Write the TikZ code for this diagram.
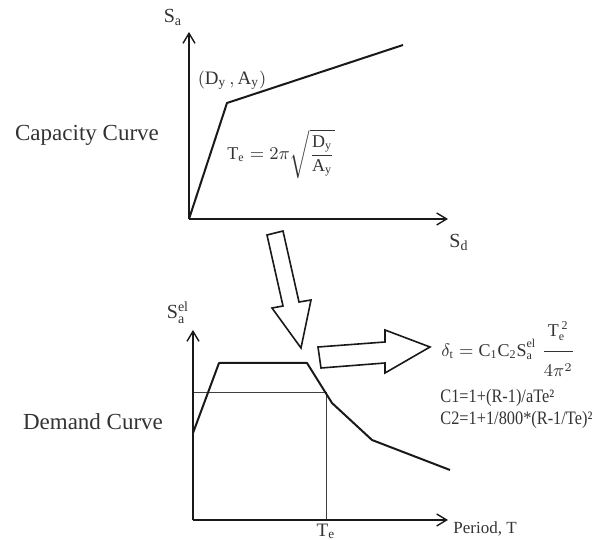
\documentclass[tikz,border=0pt]{standalone}
\usepackage{fontspec}
\setmainfont{Liberation Serif}
\usetikzlibrary{arrows.meta,calc}
\definecolor{TextClr}{rgb}{0.2,0.2,0.2}
\definecolor{LineClr}{rgb}{0.1,0.1,0.1}

\begin{document}
\begin{tikzpicture}[x=0.5pt,y=-0.5pt,
  axis/.style={line width=0.7pt,draw=LineClr,-{Straight Barb[length=5pt,width=6pt]}},
  curve/.style={line width=1pt,draw=LineClr,line join=round},
  guide/.style={line width=0.4pt,draw=black!75},
  fatarrow/.style={line width=0.8pt,draw=LineClr,line join=miter},
  lbl/.style={inner sep=0pt,text=TextClr},
  title/.style={lbl,font=\fontsize{11.5}{14}\selectfont},
  small/.style={lbl,font=\fontsize{9.5}{11}\selectfont},
  tiny/.style={lbl,font=\fontsize{8.5}{10}\selectfont}]
\useasboundingbox (0,0) rectangle (596,540);

% capacity curve
\coordinate (O1) at (189,219);
\coordinate (Y1) at (189,32);
\coordinate (X1) at (448,219);
\coordinate (Yld) at (227,103);
\coordinate (E1) at (403,45);
\draw[axis] (O1) -- (Y1);
\draw[axis] (O1) -- (X1);
\draw[curve] (O1) -- (Yld) -- (E1);

\node[title] (cap) at (87,135) {Capacity Curve};
\node[small,font=\fontsize{10}{12}\selectfont] (sa) at (173,17) {$\mathrm{S_a}$};
\node[small,font=\fontsize{10}{12}\selectfont] (sd) at (459,242) {$\mathrm{S_d}$};
\node[small] (dy) at (232,80) {$\mathrm{(D_y\,, A_y)}$};
\node[small,font=\fontsize{9}{11}\selectfont] (te) at (281,154)
  {$\displaystyle\mathrm{T_e}=2\pi\sqrt{\frac{\mathrm{D_y}}{\mathrm{A_y}}}$};

% hollow arrows
\draw[fatarrow] (267,235) -- (283,306) -- (272,308) -- (301,348) -- (311,300)
  -- (299,302) -- (283,231) -- cycle;
\draw[fatarrow] (318,347) -- (385,342) -- (385,330) -- (430,347) -- (385,373)
  -- (385,363) -- (321,368) -- cycle;

% demand curve
\coordinate (O2) at (193,520);
\coordinate (Y2) at (193,330);
\coordinate (X2) at (448,520);
\coordinate (Te) at (326,520);
\coordinate (Se) at (193,392);
\coordinate (P) at (326,392);
\draw[guide] (Se) -- (P) -- (Te);
\draw[axis] (O2) -- (Y2);
\draw[axis] (O2) -- (X2);
\draw[curve] (193,433) -- (219,363) -- (307,363) -- (332,403) -- (372,440) -- (450,470);

\node[title] (dem) at (93,422) {Demand Curve};
\node[small,font=\fontsize{10}{12}\selectfont] (sael) at (178,313) {$\mathrm{S_a^{el}}$};
\node[small] (tlab) at (326,531) {$\mathrm{T_e}$};
\node[tiny,anchor=west] (per) at (453,529) {Period, T};

% target displacement
\node[small,font=\fontsize{9}{11}\selectfont,anchor=west] (dt) at (441,349)
  {$\displaystyle\delta_{\mathrm{t}}=\mathrm{C_1C_2S_a^{el}}\;
   \frac{\mathrm{T_e^{\,2}}\rule[-6pt]{0pt}{0pt}}{\rule{0pt}{11pt}4\pi^2}$};
\node[small,anchor=base west] (c1) at (440,403) {\scalebox{0.86}[1]{C1=1+(R-1)/aTe²}};
\node[small,anchor=base west] (c2) at (440,425) {\scalebox{0.86}[1]{C2=1+1/800*(R-1/Te)²}};
\end{tikzpicture}
\end{document}
